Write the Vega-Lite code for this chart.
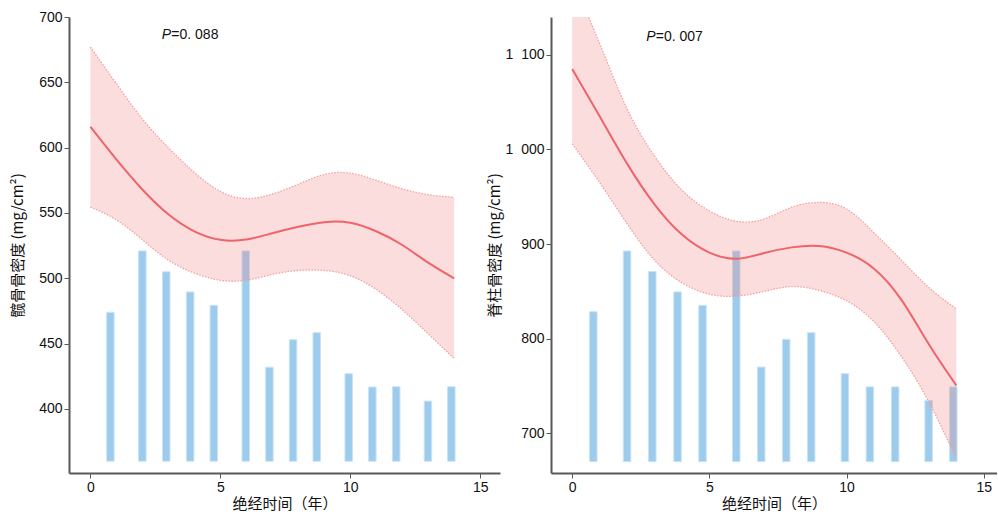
{
  "$schema": "https://vega.github.io/schema/vega-lite/v6.json",
  "background": "white",
  "padding": {"left": 10, "top": 10, "right": 0, "bottom": 0},
  "spacing": 51,
  "bounds": "flush",
  "datasets": {
    "bars": [
      {"t": 0.77, "hip": 474, "spine": 828.5},
      {"t": 2.0, "hip": 521, "spine": 892.7},
      {"t": 2.92, "hip": 505, "spine": 871},
      {"t": 3.84, "hip": 489.6, "spine": 849.4},
      {"t": 4.75, "hip": 479.3, "spine": 835.2},
      {"t": 5.98, "hip": 521, "spine": 892.7},
      {"t": 6.89, "hip": 432, "spine": 770},
      {"t": 7.8, "hip": 453, "spine": 799.3},
      {"t": 8.71, "hip": 458.4, "spine": 806.3},
      {"t": 9.94, "hip": 427, "spine": 763},
      {"t": 10.85, "hip": 416.8, "spine": 749},
      {"t": 11.77, "hip": 417, "spine": 749},
      {"t": 12.99, "hip": 406, "spine": 734.5},
      {"t": 13.89, "hip": 417, "spine": 749}
    ],
    "hipcurve": [
      {"t": 0, "fit": 616, "lo": 554.5, "hi": 677},
      {"t": 1, "fit": 591, "lo": 544.8, "hi": 649},
      {"t": 2, "fit": 568, "lo": 529.5, "hi": 622},
      {"t": 3, "fit": 549, "lo": 514, "hi": 600},
      {"t": 4, "fit": 536, "lo": 504, "hi": 581},
      {"t": 5, "fit": 529.5, "lo": 498.5, "hi": 566.5},
      {"t": 6, "fit": 529.7, "lo": 498.5, "hi": 561},
      {"t": 7, "fit": 534.5, "lo": 503, "hi": 564.5},
      {"t": 8, "fit": 539.5, "lo": 506, "hi": 572},
      {"t": 9, "fit": 543, "lo": 506, "hi": 579.5},
      {"t": 10, "fit": 542.5, "lo": 502, "hi": 580.5},
      {"t": 11, "fit": 536, "lo": 491.5, "hi": 575},
      {"t": 12, "fit": 525.5, "lo": 476, "hi": 568.5},
      {"t": 13, "fit": 512, "lo": 457.5, "hi": 564},
      {"t": 14, "fit": 500, "lo": 438.5, "hi": 562}
    ],
    "spinecurve": [
      {"t": 0, "fit": 1085, "lo": 1006, "hi": 1180},
      {"t": 1, "fit": 1035, "lo": 965, "hi": 1112},
      {"t": 2, "fit": 985, "lo": 921.5, "hi": 1043},
      {"t": 3, "fit": 942, "lo": 883, "hi": 993},
      {"t": 4, "fit": 910, "lo": 859, "hi": 957},
      {"t": 5, "fit": 891, "lo": 847, "hi": 935},
      {"t": 6, "fit": 884.5, "lo": 845, "hi": 924},
      {"t": 7, "fit": 890.5, "lo": 850, "hi": 926.5},
      {"t": 8, "fit": 896.5, "lo": 855, "hi": 939},
      {"t": 9, "fit": 898, "lo": 851, "hi": 944},
      {"t": 10, "fit": 891, "lo": 840, "hi": 937},
      {"t": 11, "fit": 874, "lo": 818, "hi": 912},
      {"t": 12, "fit": 841, "lo": 781, "hi": 883},
      {"t": 13, "fit": 794, "lo": 733, "hi": 854},
      {"t": 14, "fit": 750.5, "lo": 673, "hi": 831.5}
    ],
    "hipP": [{"t": 2.75, "v": 686, "p": "P", "rest": "=0. 088"}],
    "spineP": [{"t": 2.7, "v": 1118.5, "p": "P", "rest": "=0. 007"}]
  },
  "hconcat": [
    {
      "width": 431,
      "height": 456,
      "encoding": {
        "x": {"field": "t", "type": "quantitative",
              "scale": {"domain": [-0.63, 15.57], "nice": false, "zero": false},
              "axis": {"values": [0, 5, 10, 15], "title": "绝经时间（年）", "titlePadding": 2}}
      },
      "layer": [
        {
          "data": {"name": "bars"},
          "mark": {"type": "bar", "size": 7.5, "color": "#9DCBEC", "stroke": "#C8E3F6", "strokeWidth": 1},
          "encoding": {
            "y": {"field": "hip", "type": "quantitative",
                  "scale": {"domain": [351, 700], "nice": false, "zero": false},
                  "axis": {"values": [400, 450, 500, 550, 600, 650, 700], "title": "髋骨骨密度 (mg/cm²)", "titlePadding": 13}},
            "y2": {"datum": 360}
          }
        },
        {
          "data": {"name": "hipcurve"},
          "mark": {"type": "area", "color": "#F08080", "opacity": 0.27, "interpolate": "natural"},
          "encoding": {
            "y": {"field": "lo", "type": "quantitative", "scale": {"domain": [351, 700], "nice": false, "zero": false}, "axis": {"title": "髋骨骨密度 (mg/cm²)"}},
            "y2": {"field": "hi"}
          }
        },
        {
          "data": {"name": "hipcurve"},
          "mark": {"type": "line", "color": "#F4A0A0", "strokeDash": [1.5, 1.5], "strokeWidth": 1.3, "interpolate": "natural"},
          "encoding": {
            "y": {"field": "hi", "type": "quantitative", "scale": {"domain": [351, 700], "nice": false, "zero": false}, "axis": {"title": "髋骨骨密度 (mg/cm²)"}}
          }
        },
        {
          "data": {"name": "hipcurve"},
          "mark": {"type": "line", "color": "#F4A0A0", "strokeDash": [1.5, 1.5], "strokeWidth": 1.3, "interpolate": "natural"},
          "encoding": {
            "y": {"field": "lo", "type": "quantitative", "scale": {"domain": [351, 700], "nice": false, "zero": false}, "axis": {"title": "髋骨骨密度 (mg/cm²)"}}
          }
        },
        {
          "data": {"name": "hipcurve"},
          "mark": {"type": "line", "color": "#EE6468", "strokeWidth": 2, "interpolate": "natural"},
          "encoding": {
            "y": {"field": "fit", "type": "quantitative", "scale": {"domain": [351, 700], "nice": false, "zero": false}, "axis": {"title": "髋骨骨密度 (mg/cm²)"}}
          }
        },
        {
          "data": {"name": "hipP"},
          "mark": {"type": "text", "align": "left", "baseline": "middle", "font": "Liberation Sans", "fontSize": 14, "fontStyle": "italic", "color": "#111"},
          "encoding": {
            "y": {"field": "v", "type": "quantitative", "scale": {"domain": [351, 700], "nice": false, "zero": false}, "axis": {"title": "髋骨骨密度 (mg/cm²)"}},
            "text": {"field": "p"}
          }
        },
        {
          "data": {"name": "hipP"},
          "mark": {"type": "text", "align": "left", "baseline": "middle", "font": "Liberation Sans", "fontSize": 14, "dx": 9.5, "color": "#111"},
          "encoding": {
            "y": {"field": "v", "type": "quantitative", "scale": {"domain": [351, 700], "nice": false, "zero": false}, "axis": {"title": "髋骨骨密度 (mg/cm²)"}},
            "text": {"field": "rest"}
          }
        }
      ]
    },
    {
      "width": 446,
      "height": 456,
      "encoding": {
        "x": {"field": "t", "type": "quantitative",
              "scale": {"domain": [-0.59, 15.3], "nice": false, "zero": false},
              "axis": {"values": [0, 5, 10, 15], "title": "绝经时间（年）", "titlePadding": 2}}
      },
      "layer": [
        {
          "data": {"name": "bars"},
          "mark": {"type": "bar", "size": 7.5, "color": "#9DCBEC", "stroke": "#C8E3F6", "strokeWidth": 1},
          "encoding": {
            "y": {"field": "spine", "type": "quantitative",
                  "scale": {"domain": [658, 1140], "nice": false, "zero": false},
                  "axis": {"values": [700, 800, 900, 1000, 1100], "title": "脊柱骨密度 (mg/cm²)", "titlePadding": 3,
                           "labelExpr": "datum.value >= 1000 ? '1\u2007' + format(datum.value - 1000, '03d') : datum.label"}},
            "y2": {"datum": 670}
          }
        },
        {
          "data": {"name": "spinecurve"},
          "mark": {"type": "area", "color": "#F08080", "opacity": 0.27, "interpolate": "natural", "clip": true},
          "encoding": {
            "y": {"field": "lo", "type": "quantitative", "scale": {"domain": [658, 1140], "nice": false, "zero": false}, "axis": {"title": "脊柱骨密度 (mg/cm²)"}},
            "y2": {"field": "hi"}
          }
        },
        {
          "data": {"name": "spinecurve"},
          "mark": {"type": "line", "color": "#F4A0A0", "strokeDash": [1.5, 1.5], "strokeWidth": 1.3, "interpolate": "natural", "clip": true},
          "encoding": {
            "y": {"field": "hi", "type": "quantitative", "scale": {"domain": [658, 1140], "nice": false, "zero": false}, "axis": {"title": "脊柱骨密度 (mg/cm²)"}}
          }
        },
        {
          "data": {"name": "spinecurve"},
          "mark": {"type": "line", "color": "#F4A0A0", "strokeDash": [1.5, 1.5], "strokeWidth": 1.3, "interpolate": "natural", "clip": true},
          "encoding": {
            "y": {"field": "lo", "type": "quantitative", "scale": {"domain": [658, 1140], "nice": false, "zero": false}, "axis": {"title": "脊柱骨密度 (mg/cm²)"}}
          }
        },
        {
          "data": {"name": "spinecurve"},
          "mark": {"type": "line", "color": "#EE6468", "strokeWidth": 2, "interpolate": "natural", "clip": true},
          "encoding": {
            "y": {"field": "fit", "type": "quantitative", "scale": {"domain": [658, 1140], "nice": false, "zero": false}, "axis": {"title": "脊柱骨密度 (mg/cm²)"}}
          }
        },
        {
          "data": {"name": "spineP"},
          "mark": {"type": "text", "align": "left", "baseline": "middle", "font": "Liberation Sans", "fontSize": 14, "fontStyle": "italic", "color": "#111"},
          "encoding": {
            "y": {"field": "v", "type": "quantitative", "scale": {"domain": [658, 1140], "nice": false, "zero": false}, "axis": {"title": "脊柱骨密度 (mg/cm²)"}},
            "text": {"field": "p"}
          }
        },
        {
          "data": {"name": "spineP"},
          "mark": {"type": "text", "align": "left", "baseline": "middle", "font": "Liberation Sans", "fontSize": 14, "dx": 9.5, "color": "#111"},
          "encoding": {
            "y": {"field": "v", "type": "quantitative", "scale": {"domain": [658, 1140], "nice": false, "zero": false}, "axis": {"title": "脊柱骨密度 (mg/cm²)"}},
            "text": {"field": "rest"}
          }
        }
      ]
    }
  ],
  "config": {
    "view": {"stroke": null},
    "axis": {
      "grid": false,
      "domainColor": "#595959",
      "domainWidth": 2,
      "tickColor": "#595959",
      "tickWidth": 1,
      "tickSize": 5,
      "labelPadding": 2,
      "labelFont": "Liberation Sans",
      "labelFontSize": 14,
      "labelColor": "#111",
      "labelFlush": false,
      "labelOverlap": false,
      "titleFont": "Noto Sans CJK SC",
      "titleFontSize": 15,
      "titleFontWeight": "normal",
      "titleColor": "#111"
    }
  }
}
